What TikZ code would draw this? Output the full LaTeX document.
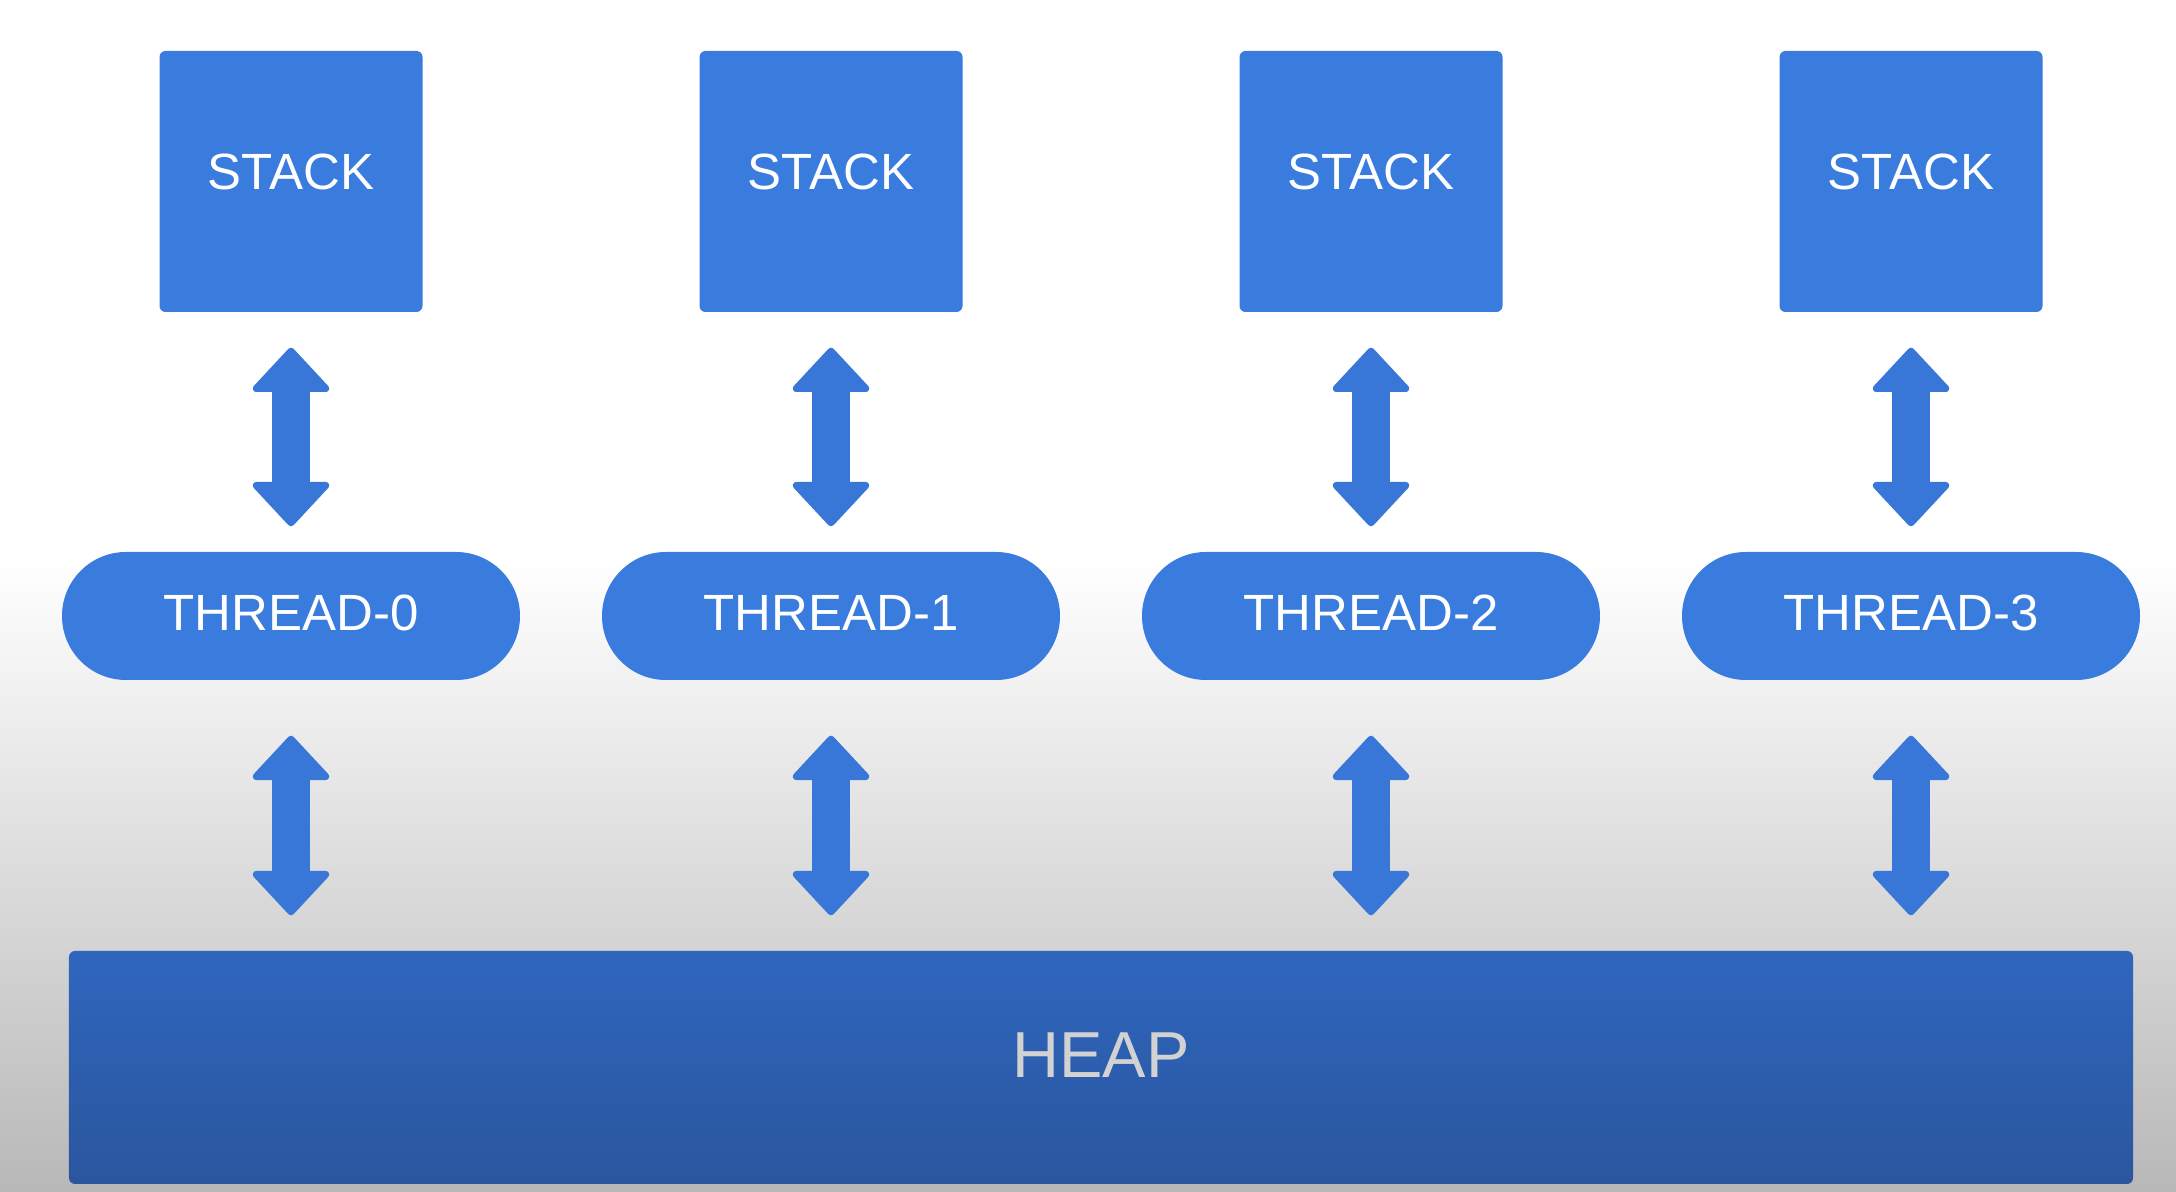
\documentclass[tikz,border=0pt]{standalone}
\usepackage{fontspec}
\setmainfont{Liberation Sans}
\usetikzlibrary{arrows.meta}

\definecolor{boxblue}{HTML}{3A7BDE}
\definecolor{arrowblue}{HTML}{3877D8}
\definecolor{heaptop}{HTML}{2F66BE}
\definecolor{heapbottom}{HTML}{2A569E}
\definecolor{heaptext}{HTML}{D2D2D2}
\definecolor{bggray}{HTML}{B8B8B8}

\begin{document}
\begin{tikzpicture}[
	stackbox/.style={rectangle, fill=boxblue, rounded corners=0.6mm, minimum width=26.3mm, minimum height=26.1mm, inner sep=0pt, text=white, text depth=1.9mm, font=\fontsize{14.5}{17}\selectfont},
	threadnode/.style={rectangle, fill=boxblue, rounded corners=6.4mm, minimum width=45.8mm, minimum height=12.8mm, inner sep=0pt, text=white, text depth=0.7mm, font=\fontsize{14.5}{17}\selectfont},
	heapbox/.style={rectangle, top color=heaptop, bottom color=heapbottom, rounded corners=0.6mm, minimum width=206.4mm, minimum height=23.3mm, inner sep=0pt, text=heaptext, text depth=2.4mm, font=\fontsize{18.5}{22}\selectfont},
	dblarrow/.style={draw=arrowblue, line width=3.8mm, {Triangle[width=8.4mm, length=4.6mm, line width=2pt, round]}-{Triangle[width=8.4mm, length=4.6mm, line width=2pt, round]}}
]
\useasboundingbox (0,0) rectangle (21.76,11.92);
% background
\fill[white] (0,6.3) rectangle (21.76,11.92);
\shade[top color=white, bottom color=bggray] (0,0) rectangle (21.76,6.32);

\node[heapbox] (heap) at (11.01,1.245) {HEAP};

\foreach \i in {0,1,2,3} {
	\node[stackbox] (stack\i) at (2.91+5.4*\i,10.105) {STACK};
	\node[threadnode] (thread\i) at (2.91+5.4*\i,5.76) {THREAD-\i};
	\draw[dblarrow, shorten <=3.5mm, shorten >=2.5mm] (stack\i.south) -- (thread\i.north);
	\draw[dblarrow, shorten <=5.5mm, shorten >=3.5mm] (thread\i.south) -- (thread\i.south |- heap.north);
}
\end{tikzpicture}
\end{document}
